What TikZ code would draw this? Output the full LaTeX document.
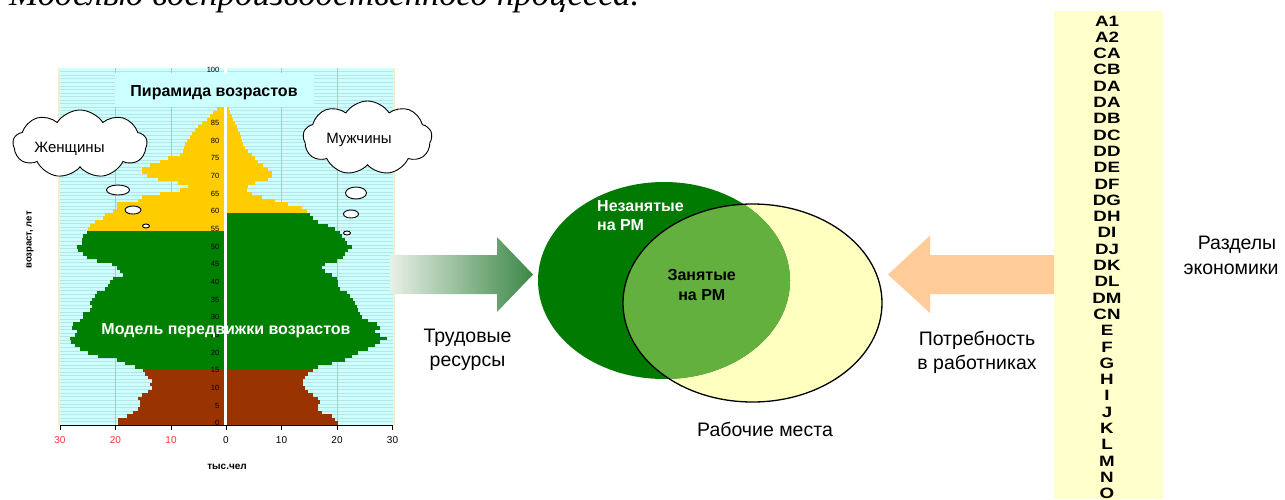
\documentclass[tikz,border=0pt]{standalone}
\usepackage{fontspec}
\setmainfont{Liberation Sans}
\newfontfamily\serifit{Liberation Serif}
\newfontfamily\colfont[FakeStretch=1.25]{Liberation Sans Bold}
\usetikzlibrary{shapes.symbols,shapes.geometric}
\definecolor{pyrgreen}{RGB}{0,128,0}
\definecolor{pyryellow}{RGB}{255,204,0}
\definecolor{pyrbrown}{RGB}{153,51,0}
\definecolor{bgcyan}{RGB}{204,255,255}
\definecolor{stripe}{RGB}{185,228,228}
\definecolor{gridgrey}{RGB}{192,192,192}
\definecolor{cream}{RGB}{240,240,205}
\definecolor{tickred}{RGB}{255,51,51}
\definecolor{vdark}{RGB}{0,122,0}
\definecolor{vmid}{RGB}{100,176,62}
\definecolor{vyellow}{RGB}{255,255,192}
\definecolor{peach}{RGB}{255,204,153}
\definecolor{colyellow}{RGB}{255,255,204}
\definecolor{garrL}{RGB}{232,240,232}
\definecolor{garrR}{RGB}{60,135,70}
\tikzset{
  agelab/.style={anchor=east, font=\fontsize{7.5}{8}\selectfont, inner sep=0pt},
  ticklab/.style={anchor=base, font=\fontsize{10}{12}\selectfont, inner sep=0pt},
  bigtxt/.style={anchor=base, font=\fontsize{19.5}{23}\selectfont, inner sep=0pt},
  boldtxt/.style={anchor=base, font=\bfseries\fontsize{16}{19}\selectfont, inner sep=0pt},
  cloudbox/.style={cloud, cloud puffs=9, cloud puff arc=115, cloud ignores aspect, draw=black, fill=white, line width=0.9pt, inner sep=0pt},
  cloudtxt/.style={anchor=base, font=\fontsize{15}{18}\selectfont, inner sep=0pt},
  bubble/.style={ellipse, draw=black, fill=white, line width=0.9pt, inner sep=0pt},
  coltxt/.style={anchor=base, font=\colfont\fontsize{15}{16}\selectfont, inner sep=0pt},
}
\begin{document}
\begin{tikzpicture}[x=1pt,y=-1pt]
\useasboundingbox (0,0) rectangle (1285,499);
\clip (0,0) rectangle (1285,499);

% title (cut at top)
\node[anchor=base west, inner sep=0pt, font=\serifit\itshape\fontsize{35}{40}\selectfont] (ttl) at (9,5) {Моделью воспроизводственного процесса.};

% ---------- pyramid chart ----------
\fill[bgcyan] (60,68) rectangle (393,425.7);
\foreach \a in {0,...,100}
  \draw[stripe, line width=0.7pt] (60,{425.07-3.533*\a}) -- (393,{425.07-3.533*\a});
\foreach \gx in {115.5,171,281.5,337}
  \draw[gridgrey, line width=0.8pt] (\gx,68) -- (\gx,425.7);
\draw[cream, line width=2pt] (59,68) -- (59,425.7);
\draw[cream, line width=2pt] (393.5,68) -- (393.5,425.7);
\fill[white] (223.6,68) rectangle (227.4,425.7);

% women (left)
\foreach \a/\l in {0/118,1/118,2/127,3/133,4/138,5/140,6/140,7/138,8/142,9/148,10/152,11/150,12/152,13/148,14/145,15/143,
16/135,17/125,18/117,19/98,20/88,21/80,22/75,23/71,24/70,25/75,26/77,27/72,28/73,29/80,30/83,31/83,32/90,33/92,34/90,35/92,36/95,37/97,38/105,39/108,40/110,41/113,42/123,43/120,44/117,45/112,46/97,47/87,48/83,49/78,50/77,51/82,52/82,53/83,54/87,
55/88,56/90,57/95,58/103,59/105,60/113,61/117,62/117,63/138,64/142,65/160,66/180,67/188,68/178,69/158,70/147,71/142,72/142,73/150,74/160,75/168,76/180,77/183,78/184,79/185,80/187,81/190,82/192,83/195,84/198,85/202,86/207,87/210,88/213,89/217,90/218,91/220,92/222,93/223}{%
  \ifnum\a<16 \colorlet{barc}{pyrbrown}\else\ifnum\a<55 \colorlet{barc}{pyrgreen}\else\colorlet{barc}{pyryellow}\fi\fi
  \fill[barc] (\l,{423.3-3.533*\a-1.9}) rectangle (223.6,{423.3-3.533*\a+1.9});
}
% men (right)
\foreach \a/\r in {0/338,1/335,2/332,3/322,4/318,5/318,6/320,7/318,8/313,9/308,10/305,11/303,12/303,13/305,14/308,15/313,
16/318,17/332,18/345,19/352,20/358,21/368,22/375,23/380,24/387,25/380,26/375,27/380,28/377,29/368,30/362,31/360,32/358,33/357,34/355,35/353,36/350,37/347,38/340,39/338,40/338,41/337,42/332,43/325,44/322,45/325,46/337,47/343,48/345,49/348,50/352,51/347,52/345,53/342,54/340,55/335,56/328,57/318,58/313,59/310,
60/307,61/302,62/288,63/275,64/262,65/252,66/247,67/248,68/255,69/268,70/272,71/272,72/268,73/263,74/258,75/255,76/252,77/248,78/245,79/243,80/242,81/241,82/240,83/238,84/237,85/235,86/233,87/232,88/230,89/229,90/228.5}{%
  \ifnum\a<16 \colorlet{barc}{pyrbrown}\else\ifnum\a<60 \colorlet{barc}{pyrgreen}\else\colorlet{barc}{pyryellow}\fi\fi
  \fill[barc] (227.4,{423.3-3.533*\a-1.9}) rectangle (\r,{423.3-3.533*\a+1.9});
}
% age labels
\foreach \a in {0,5,...,100}
  \node[agelab] (age\a) at (219.5,{423.3-3.533*\a}) {\a};

% axis
\draw[black, line width=0.8pt] (60,425.7) -- (393,425.7);
\foreach \tx in {60,115.5,171,226,281.5,337,392.5}
  \draw[black, line width=0.8pt] (\tx,425.7) -- (\tx,429.5);
\node[ticklab, tickred] (tl30) at (60,443.3) {30};
\node[ticklab, tickred] (tl20) at (115.5,443.3) {20};
\node[ticklab, tickred] (tl10) at (171,443.3) {10};
\node[ticklab] (t0) at (226,443.3) {0};
\node[ticklab] (tr10) at (281.5,443.3) {10};
\node[ticklab] (tr20) at (337,443.3) {20};
\node[ticklab] (tr30) at (392.5,443.3) {30};
\node[anchor=base, inner sep=0pt, font=\bfseries\fontsize{10}{12}\selectfont] (xunit) at (227,469.3) {тыс.чел};
\node[rotate=90, inner sep=0pt, font=\bfseries\fontsize{9.5}{12}\selectfont] (yunit) at (30,240) {возраст, лет};

% chart captions
\fill[bgcyan] (115,73) rectangle (314,107);
\node[anchor=base, inner sep=0pt, font=\bfseries\fontsize{16}{19}\selectfont] (pyrtitle) at (214,96) {Пирамида возрастов};
\node[anchor=base, inner sep=0pt, text=white, font=\bfseries\fontsize{16}{19}\selectfont] (model) at (226,334.3) {Модель передвижки возрастов};

% clouds
\node[cloudbox, minimum width=134pt, minimum height=68pt] (wcloud) at (80,144) {};
\node[cloudtxt] (wtext) at (69.5,152.3) {Женщины};
\node[bubble, minimum width=23pt, minimum height=10pt] (wb1) at (118,190) {};
\node[bubble, minimum width=16pt, minimum height=8pt] (wb2) at (133,210) {};
\node[bubble, minimum width=7pt, minimum height=4pt] (wb3) at (146,226) {};
\node[cloudbox, minimum width=129pt, minimum height=74pt] (mcloud) at (367.5,138) {};
\node[cloudtxt] (mtext) at (359,143.3) {Мужчины};
\node[bubble, minimum width=21pt, minimum height=12pt] (mb1) at (356,193) {};
\node[bubble, minimum width=15pt, minimum height=8pt] (mb2) at (351,214) {};
\node[bubble, minimum width=7pt, minimum height=4pt] (mb3) at (347,233) {};

% ---------- green arrow ----------
\shade[left color=garrL, right color=garrR] (390,255) -- (497,255) -- (497,237) -- (533,274.5) -- (497,312) -- (497,294) -- (390,294) -- cycle;
\node[bigtxt] (tr1) at (467.5,342.7) {Трудовые};
\node[bigtxt] (tr2) at (467.5,366.7) {ресурсы};

% ---------- Venn ----------
\fill[vyellow] (752.5,303) ellipse [x radius=129.5pt, y radius=99pt];
\fill[vdark] (664,280.5) ellipse [x radius=126pt, y radius=98.5pt];
\begin{scope}
  \clip (752.5,303) ellipse [x radius=129.5pt, y radius=99pt];
  \fill[vmid] (664,280.5) ellipse [x radius=126pt, y radius=98.5pt];
\end{scope}
\draw[black, line width=1.3pt] (752.5,303) ellipse [x radius=129.5pt, y radius=99pt];
\node[boldtxt, anchor=base west, text=white] (un1) at (597,211.3) {Незанятые};
\node[boldtxt, anchor=base west, text=white] (un2) at (597,230.7) {на РМ};
\node[boldtxt] (em1) at (701.7,280) {Занятые};
\node[boldtxt] (em2) at (701.7,300.7) {на РМ};
\node[bigtxt] (rm) at (765,436) {Рабочие места};

% ---------- orange arrow ----------
\fill[peach] (1054,255) -- (930,255) -- (930,235.5) -- (888,274.5) -- (930,313) -- (930,294) -- (1054,294) -- cycle;
\node[bigtxt] (pt1) at (977,345.7) {Потребность};
\node[bigtxt] (pt2) at (977,369) {в работниках};

% ---------- sections column ----------
\fill[colyellow] (1054,11) rectangle (1163,499);
\foreach \s [count=\i from 0] in {A1,A2,CA,CB,DA,DA,DB,DC,DD,DE,DF,DG,DH,DI,DJ,DK,DL,DM,CN,E,F,G,H,I,J,K,L,M,N,O}
  \node[coltxt] (sec\i) at (1107,{26+16.3*\i}) {\s};
\node[bigtxt] (rz1) at (1237,249) {Разделы};
\node[bigtxt] (rz2) at (1231,274) {экономики};
\end{tikzpicture}
\end{document}
